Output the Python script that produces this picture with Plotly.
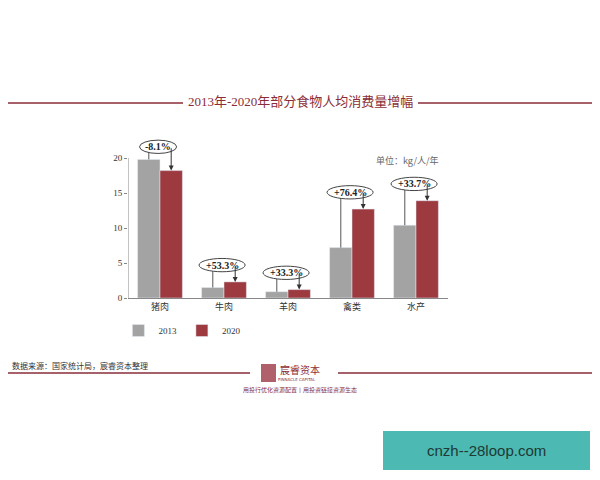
import plotly.graph_objects as go

categories = ["猪肉", "牛肉", "羊肉", "禽类", "水产"]
v2013 = [19.8, 1.5, 0.9, 7.2, 10.4]
v2020 = [18.2, 2.3, 1.2, 12.7, 13.9]
yticks = [0, 5, 10, 15, 20]

GRAY = "#a3a3a3"
RED = "#9c3a40"
DARK = "#8a2d38"
CJK = "Noto Sans CJK SC"

W, H = 600, 480
S = 8  # browser body margin offset
YMAX = 23
ML, MR, MB = 128 - S, 152 + S, 182 + S
MT = (298 - S) - 7 * YMAX
pw, ph = W - ML - MR, H - MT - MB

fig = go.Figure()
fig.add_bar(x=categories, y=v2013, name="2013", marker_color=GRAY)
fig.add_bar(x=categories, y=v2020, name="2020", marker_color=RED)

shapes = [dict(type="line", x0=-0.5, x1=-0.5, y0=0, y1=yticks[-1], line=dict(color="#888", width=1))]
annotations = []
off = 0.175
for i, (a, b) in enumerate(zip(v2013, v2020)):
    top = max(a, b) + (1.8 if i == 0 else 2.4)
    pct = (b / a - 1) * 100
    label = f"{pct:+.1f}%"
    x1, x2 = i - off, i + off
    shapes.append(dict(type="line", x0=x1, x1=x1, y0=a, y1=top, line=dict(color="#555", width=1)))
    shapes.append(dict(type="line", x0=x1, x1=x2, y0=top, y1=top, line=dict(color="#555", width=1)))
    hw = 0.29 if i == 0 else 0.36
    shapes.append(dict(type="circle", x0=i - 0.03 - hw, x1=i - 0.03 + hw, y0=top - 0.95, y1=top + 0.95,
                       fillcolor="white", line=dict(color="#444", width=1)))
    annotations.append(dict(x=i - 0.03, y=top, text=f"<b>{label}</b>", showarrow=False,
                            font=dict(family="Liberation Serif", size=10, color="#222")))
    annotations.append(dict(x=x2, y=b, ax=x2, ay=top, xref="x", yref="y", axref="x", ayref="y",
                            text="", showarrow=True, arrowhead=2, arrowsize=1, arrowwidth=1, arrowcolor="#333"))

def pa(x, y, text, xanchor="center", **kw):
    d = dict(xref="paper", yref="paper", x=(x - S - ML) / pw, y=(H - MB - (y - S)) / ph, text=text,
             showarrow=False, xanchor=xanchor, yanchor="middle")
    d.update(kw)
    return d

annotations += [
    pa(300, 102, "2013年-2020年部分食物人均消费量增幅",
       font=dict(family="Liberation Serif, " + CJK, size=13, color=DARK)),
    pa(440, 160, "单位：kg/人/年", xanchor="right", font=dict(family=CJK, size=9, color="#666")),
    pa(10, 365, "数据来源：国家统计局，宸睿资本整理", xanchor="left", font=dict(family=CJK, size=8, color="#333")),
    pa(278, 369, "宸睿资本", xanchor="left", font=dict(family=CJK, size=10, color=DARK)),
    pa(297, 379, "PINNACLE CAPITAL", font=dict(family="DejaVu Sans", size=4, color=DARK)),
    pa(300, 389, "用投行优化资源配置丨用投资链接资源生态", font=dict(family=CJK, size=6, color=DARK)),
    pa(486, 450, "cnzh--28loop.com", font=dict(family="Liberation Sans", size=15, color="#1d3a36")),
]

def px(x0, y0, x1, y1, **kw):
    d = dict(xref="paper", yref="paper", x0=(x0 - S - ML) / pw, x1=(x1 - S - ML) / pw,
             y0=(H - MB - (y0 - S)) / ph, y1=(H - MB - (y1 - S)) / ph)
    d.update(kw)
    return d

shapes += [
    px(0, 103, 183, 103, type="line", line=dict(color=DARK, width=1.5)),
    px(418, 103, 610, 103, type="line", line=dict(color=DARK, width=1.5)),
    px(0, 373, 250, 373, type="line", line=dict(color=DARK, width=1.5)),
    px(338, 373, 610, 373, type="line", line=dict(color=DARK, width=1.5)),
    px(261, 364, 276, 382, type="rect", fillcolor="#b0606a", line=dict(width=0)),
    px(383, 431, 590, 470, type="rect", fillcolor="#4cb9b2", line=dict(width=0)),
]

fig.update_layout(
    width=W, height=H, margin=dict(l=ML, r=MR, t=MT, b=MB, autoexpand=False),
    paper_bgcolor="white", plot_bgcolor="white",
    barmode="group", bargap=0.3, bargroupgap=0,
    showlegend=True,
    legend=dict(orientation="h", x=-0.03, y=(H - MB - (316 - S)) / ph, xanchor="left", yanchor="top",
                font=dict(family="Liberation Serif", size=9, color="#333"),
                itemwidth=30, tracegroupgap=0),
    xaxis=dict(showline=True, linecolor="#888", ticks="", range=[-0.5, 4.5],
               tickfont=dict(family=CJK, size=9, color="#333")),
    yaxis=dict(range=[0, YMAX], tickvals=yticks, showgrid=False, showline=False,
               ticks="outside", ticklen=3, tickcolor="#888",
               tickfont=dict(family="Liberation Serif", size=9, color="#333")),
    shapes=shapes, annotations=annotations,
)
fig.write_html("out.html")
